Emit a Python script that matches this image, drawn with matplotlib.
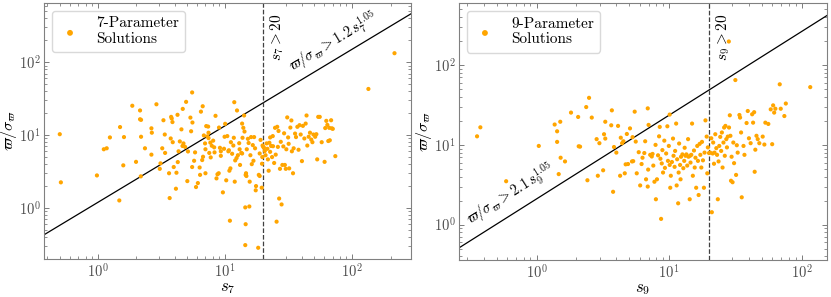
import numpy as np
import matplotlib
matplotlib.use("Agg")
import matplotlib.pyplot as plt

plt.rcParams["font.family"] = "cmr10"
plt.rcParams["mathtext.fontset"] = "cm"
plt.rcParams["axes.formatter.use_mathtext"] = True
plt.rcParams["font.size"] = 11

# 7-parameter solutions (s_7, parallax/sigma)
s7 = [0.50, 0.51, 0.98, 1.11, 1.17, 1.24, 1.49, 1.47, 1.60, 1.58, 1.86, 1.99, 2.14, 2.18, 2.14,
      2.18, 2.17, 2.34, 2.63, 2.65, 2.88, 2.63, 3.1, 3.06, 3.2, 3.27, 3.35, 3.37, 3.62, 3.66,
      3.76, 3.8, 3.85, 3.73, 3.87, 3.94, 4.1, 4.14, 4.22, 4.24, 4.3, 4.4, 4.53, 4.64, 4.62,
      4.7, 4.84, 4.93, 5.04, 5.1, 5.33, 5.4, 5.53, 5.5, 5.5, 5.7, 5.8, 5.9, 6.1, 6.3,
      6.35, 6.45, 6.66, 6.6, 6.7, 6.8, 6.95, 7.0, 7.0, 7.1, 7.35, 7.25, 7.4, 7.4, 7.5,
      7.7, 7.65, 7.85, 8.05, 8.2, 8.25, 8.4, 8.55, 8.7, 8.9, 8.95, 9.1, 9.25, 9.25, 9.6,
      9.8, 9.9, 10.0, 10.2, 10.4, 10.6, 10.7, 10.8, 10.9, 11.0, 11.1, 11.35, 11.6, 11.7, 11.8,
      11.9, 12.0, 12.3, 12.4, 12.6, 12.9, 13.0, 13.1, 13.4, 13.6, 13.6, 13.7, 13.9, 14.1, 14.2,
      14.4, 14.5, 14.6, 14.7, 14.5, 14.4, 14.8, 15.1, 15.3, 15.5, 15.6, 15.8, 16.0, 16.2, 16.5,
      16.7, 16.9, 17.2, 17.4, 17.5, 18.2, 18.4, 18.7, 18.7, 19.0, 19.4, 19.6, 19.5, 19.7, 19.95,
      20.2, 20.5, 20.8, 21.2, 21.5, 21.7, 22.0, 22.3, 22.6, 22.6, 23.0, 23.4, 23.7, 23.8, 24.3,
      24.7, 25.0, 25.4, 25.7, 26.0, 26.3, 26.6, 27.0, 27.4, 27.8, 28.2, 28.7, 29.1, 29.5, 30.0,
      30.3, 30.8, 31.3, 31.6, 31.9, 32.6, 33.2, 33.5, 34.2, 34.6, 35.5, 36.1, 37.0, 37.8, 38.5,
      39.3, 40.2, 40.9, 42.0, 43.0, 43.7, 44.3, 45.4, 46.5, 47.6, 48.6, 49.5, 51.1, 52.2, 53.0,
      54.0, 55.5, 57.5, 60.6, 61.3, 62.5, 63.7, 64.8, 65.9, 66.6, 68.2, 69.0, 70.3, 73.6, 134,
      215]
snr7 = [10.3, 2.25, 2.8, 6.4, 6.6, 9.3, 12.9, 1.27, 9.4, 3.85, 25.3, 4.3, 21.8, 16.2, 16.5,
        9.5, 2.72, 6.6, 12.4, 10.8, 26.5, 5.4, 4.1, 3.45, 6.6, 16.0, 10.2, 5.7, 3.0, 1.37,
        17.8, 16.9, 15.1, 9.0, 8.0, 3.65, 1.84, 3.05, 19.0, 4.27, 6.0, 8.2, 12.0, 22.9, 7.1,
        7.7, 6.9, 28.6, 2.34, 5.97, 17.4, 11.3, 14.9, 3.65, 38.5, 4.45, 5.8, 1.94, 2.2, 3.6,
        2.85, 21.0, 24.9, 4.55, 5.05, 9.9, 7.7, 6.4, 3.0, 13.3, 13.1, 9.6, 10.8, 9.1, 5.7,
        4.95, 7.9, 7.15, 8.4, 6.8, 5.8, 18.4, 2.55, 2.9, 3.0, 12.7, 6.7, 6.0, 5.2, 1.64,
        6.5, 9.5, 14.3, 2.4, 9.7, 6.0, 6.2, 3.25, 0.67, 3.5, 8.0, 5.55, 7.2, 9.2, 28.3,
        2.3, 4.5, 4.85, 21.8, 5.3, 7.75, 6.4, 3.9, 5.7, 14.4, 5.6, 9.2, 12.6, 18.6, 11.2,
        1.02, 2.85, 3.0, 2.75, 0.6, 0.31, 6.4, 8.9, 7.8, 1.05, 2.3, 5.3, 9.4, 4.0, 7.3,
        4.45, 9.4, 6.6, 1.75, 2.0, 0.285, 2.85, 5.6, 2.75, 8.6, 1.9, 5.0, 4.05, 7.2, 6.9,
        6.7, 6.05, 5.3, 7.7, 6.5, 4.65, 3.25, 7.85, 5.9, 9.3, 7.1, 5.0, 9.7, 7.05, 4.15,
        12.6, 5.4, 0.65, 13.0, 6.9, 11.4, 1.35, 3.45, 8.1, 1.12, 3.9, 7.0, 10.6, 3.9, 3.45,
        6.4, 17.5, 9.3, 7.6, 3.5, 12.7, 15.9, 6.0, 3.0, 6.6, 10.5, 9.4, 13.0, 6.3, 13.7,
        10.2, 4.4, 13.4, 9.0, 14.4, 18.6, 7.2, 9.5, 10.8, 8.7, 8.0, 10.2, 9.5, 10.3, 4.65,
        17.8, 17.8, 8.0, 4.3, 12.5, 15.7, 13.8, 8.3, 12.6, 8.5, 16.0, 12.4, 12.2, 5.15, 43,
        133]

# 9-parameter solutions (s_9, parallax/sigma)
s9 = [0.356, 0.377, 0.59, 1.04, 1.37, 1.43, 1.43, 1.47, 1.51, 1.52, 1.64, 1.82, 2.06, 2.08, 2.13,
      2.37, 2.42, 2.49, 2.61, 2.84, 2.9, 2.98, 3.18, 3.23, 3.3, 3.3, 3.66, 3.7, 3.78, 3.84,
      4.0, 4.12, 4.27, 4.32, 4.42, 4.52, 4.63, 4.7, 4.8, 4.9, 5.07, 5.25, 5.3, 5.36, 5.5,
      5.6, 5.7, 5.9, 6.05, 6.2, 6.3, 6.5, 6.6, 6.7, 6.9, 6.9, 6.95, 7.0, 7.2, 7.4,
      7.5, 7.6, 7.75, 7.9, 7.95, 8.1, 8.25, 8.4, 8.5, 8.6, 8.7, 8.8, 8.9, 9.0, 9.2,
      9.3, 9.5, 9.7, 9.8, 9.95, 10.1, 10.1, 10.2, 10.3, 10.5, 10.7, 10.8, 11.0, 11.1, 11.3,
      11.4, 11.5, 11.7, 11.8, 11.9, 12.1, 12.2, 12.3, 12.6, 12.8, 13.0, 13.1, 13.3, 13.5, 13.7,
      13.9, 14.0, 14.3, 14.4, 14.5, 14.7, 14.9, 15.1, 15.4, 15.6, 15.8, 16.0, 16.3, 16.5, 16.7,
      17.0, 17.2, 17.5, 17.7, 18.0, 18.3, 18.5, 18.8, 19.2, 19.4, 19.6, 20.0, 20.4, 20.8, 21.0,
      21.3, 21.5, 21.8, 22.0, 22.3, 22.7, 23.0, 23.3, 23.6, 23.9, 24.3, 24.7, 25.0, 25.3, 25.7,
      26.0, 26.3, 26.6, 27.0, 27.3, 27.7, 28.2, 28.3, 28.7, 29.0, 29.3, 29.6, 30.1, 30.5, 30.9,
      31.6, 32.0, 32.4, 32.9, 33.9, 34.3, 34.9, 35.3, 36.4, 37.0, 38.4, 39.2, 40.0, 41.2, 42.3,
      43.0, 43.8, 44.2, 44.7, 45.6, 46.6, 47.9, 50.8, 52.3, 53.2, 56.0, 58.4, 59.9, 60.9, 62.0,
      63.3, 68.3, 69.5, 74.0, 75.9, 116]
snr9 = [12.8, 16.6, 3.5, 9.7, 18.0, 14.8, 10.9, 4.3, 19.5, 6.9, 6.2, 25.4, 22.4, 9.6, 9.5,
        29.8, 3.6, 38.9, 22.0, 11.8, 4.1, 10.5, 4.8, 13.6, 12.0, 19.5, 17.6, 27.1, 2.58, 9.4,
        8.0, 17.3, 4.1, 12.3, 10.5, 11.1, 4.4, 5.7, 13.7, 5.75, 16.1, 6.2, 12.5, 6.25, 26.1,
        11.0, 4.4, 8.1, 3.1, 5.75, 6.9, 7.9, 11.1, 3.7, 3.0, 28.7, 4.9, 17.8, 7.5, 7.15,
        7.7, 5.5, 3.45, 10.0, 2.08, 3.7, 7.4, 12.8, 16.8, 6.7, 1.18, 5.85, 8.6, 4.5, 11.3,
        5.15, 7.8, 17.1, 6.3, 9.7, 5.6, 24.0, 2.9, 4.1, 6.1, 12.0, 7.3, 5.3, 8.4, 18.5,
        3.1, 6.6, 1.85, 4.5, 10.4, 5.6, 3.7, 7.1, 7.6, 5.1, 6.3, 9.2, 7.3, 7.6, 5.5,
        11.8, 7.1, 2.08, 7.3, 6.0, 7.5, 18.5, 4.1, 8.5, 5.2, 6.9, 2.9, 9.7, 6.3, 2.35,
        10.3, 7.5, 5.2, 10.9, 6.4, 2.9, 8.0, 20.3, 12.7, 4.4, 9.3, 7.9, 8.0, 12.1, 1.43,
        7.8, 10.7, 5.8, 8.0, 13.6, 9.1, 7.5, 2.08, 6.2, 9.7, 12.6, 8.4, 14.3, 5.2, 10.7,
        16.5, 7.3, 17.3, 11.8, 9.3, 12.7, 198, 16.5, 23.5, 13.0, 3.55, 7.1, 3.4, 10.7, 5.9,
        65, 4.2, 9.9, 8.0, 23.7, 22.0, 14.3, 2.2, 9.7, 7.5, 18.8, 26.6, 12.1, 10.5, 24.2,
        19.0, 25.7, 4.6, 8.7, 13.0, 11.8, 10.5, 12.7, 10.1, 19.0, 18.3, 27.9, 10.2, 31.3, 25.4,
        28.4, 57.5, 28.4, 23.0, 33.0, 53]

panels = [
    dict(s=s7, snr=snr7, n=7, coef=1.2, xlim=(0.376, 290), ylim=(0.2, 650),
         label="7-Parameter\nSolutions", text_xy=(71, 185)),
    dict(s=s9, snr=snr9, n=9, coef=2.1, xlim=(0.26, 155), ylim=(0.36, 600),
         label="9-Parameter\nSolutions", text_xy=(0.64, 2.4)),
]

fig = plt.figure(figsize=(8.31, 2.97), dpi=100)
axes = [fig.add_axes([0.053, 0.128, 0.4416, 0.862]),
        fig.add_axes([0.5523, 0.1246, 0.4428, 0.865])]

for ax, p in zip(axes, panels):
    ax.set_xscale("log")
    ax.set_yscale("log")
    ax.set_xlim(*p["xlim"])
    ax.set_ylim(*p["ylim"])

    ax.scatter(p["s"], p["snr"], s=9, color="orange", edgecolors="none",
               label=p["label"], zorder=3)

    xx = np.array(p["xlim"])
    ax.plot(xx, p["coef"] * xx ** 1.05, color="black", lw=0.9, zorder=2)
    ax.axvline(20, color="0.25", ls="--", lw=0.9, zorder=2)

    # angle of the threshold line on screen
    p1 = ax.transData.transform((xx[0], p["coef"] * xx[0] ** 1.05))
    p2 = ax.transData.transform((xx[1], p["coef"] * xx[1] ** 1.05))
    ang = np.degrees(np.arctan2(p2[1] - p1[1], p2[0] - p1[0]))
    n = p["n"]
    ax.text(p["text_xy"][0], p["text_xy"][1],
            r"$\varpi/\sigma_\varpi > %.1f\,s_%d^{1.05}$" % (p["coef"], n),
            rotation=ang, rotation_mode="anchor", ha="center", va="center",
            fontsize=10.5)
    ax.text(22, 0.96, r"$s_%d > 20$" % n, rotation=90, ha="left", va="top",
            transform=ax.get_xaxis_transform(), fontsize=11)

    ax.set_xlabel(r"$s_%d$" % n, fontsize=12)
    ax.set_ylabel(r"$\varpi/\sigma_\varpi$", fontsize=11.5)
    ax.xaxis.set_label_coords(0.5, -0.085)
    ax.yaxis.set_label_coords(-0.069, 0.5)

    ax.tick_params(which="both", direction="in", top=True, right=True, colors="0.4",
                   labelcolor="0.3", labelsize=10.5)
    ax.tick_params(which="major", length=3.5, width=0.6, pad=2.5)
    ax.tick_params(which="minor", length=2, width=0.5)
    for sp in ax.spines.values():
        sp.set_color("0.5")
        sp.set_linewidth(0.8)

    ax.legend(loc="upper left", markerscale=1.4, fontsize=11, fancybox=True,
              framealpha=1, edgecolor="0.85", handlelength=1.6, handletextpad=0.9,
              borderpad=0.4)

fig.savefig("out.png", dpi=100)
